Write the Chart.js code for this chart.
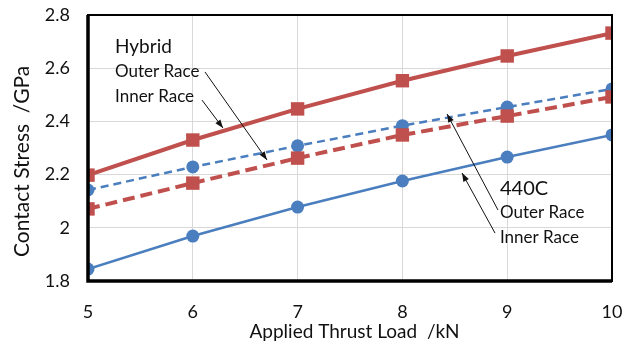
<!DOCTYPE html>
<html>
<head>
<meta charset="utf-8">
<script src="https://cdn.jsdelivr.net/npm/chart.js@4"></script>
<style>
  html, body { margin: 0; padding: 0; background: #fff; }
  #wrap { width: 634px; height: 345px; }
</style>
</head>
<body>
<div id="wrap"><canvas id="chartCanvas" width="634" height="345"></canvas></div>
<script>
// thrust load (kN)
const loads = [5, 6, 7, 8, 9, 10];

// contact stress (GPa)
const hybridOuter = [2.198, 2.330, 2.447, 2.553, 2.646, 2.732];
const hybridInner = [2.071, 2.168, 2.262, 2.349, 2.420, 2.492];
const steelOuter = [2.142, 2.229, 2.308, 2.384, 2.454, 2.522];
const steelInner = [1.845, 1.969, 2.078, 2.176, 2.266, 2.349];

const yTicks = [1.8, 2, 2.2, 2.4, 2.6, 2.8];

const RED = '#C0504D';
const BLUE = '#4A7EBE';
const FONT = 'Lato, "Open Sans", sans-serif';
const NB = '\u00a0';

// labels and arrows, in data units
const notes = [
  {text: 'Hybrid', x: 5.258, y: 2.680, size: 19},
  {text: 'Outer Race', x: 5.258, y: 2.586, size: 17},
  {text: 'Inner Race', x: 5.258, y: 2.495, size: 17},
  {text: '440C', x: 8.931, y: 2.146, size: 20},
  {text: 'Outer Race', x: 8.931, y: 2.056, size: 17},
  {text: 'Inner Race', x: 8.931, y: 1.965, size: 17},
];
const arrows = [
  [6.116, 2.586, 6.708, 2.255],
  [6.088, 2.480, 6.288, 2.375],
  [8.912, 2.067, 8.426, 2.428],
  [8.884, 1.980, 8.569, 2.206],
];

function toPoints(ys) {
  return ys.map((y, i) => ({x: loads[i], y: y}));
}

const annotate = {
  id: 'annotate',
  afterDatasetsDraw(chart) {
    const {ctx, chartArea: a, scales: {x, y}} = chart;
    ctx.save();
    // frame
    ctx.strokeStyle = '#000';
    ctx.lineWidth = 2;
    ctx.strokeRect(a.left, a.top, a.right - a.left, a.bottom - a.top);
    ctx.lineWidth = 3.5;
    ctx.beginPath();
    ctx.moveTo(a.left, a.top);
    ctx.lineTo(a.left, a.bottom);
    ctx.lineTo(a.right, a.bottom);
    ctx.stroke();

    ctx.fillStyle = '#111';
    ctx.textBaseline = 'middle';
    ctx.textAlign = 'left';
    notes.forEach(n => {
      ctx.font = n.size + 'px ' + FONT;
      ctx.fillText(n.text, x.getPixelForValue(n.x), y.getPixelForValue(n.y));
    });

    ctx.strokeStyle = '#111';
    ctx.lineWidth = 1;
    arrows.forEach(ar => {
      const x1 = x.getPixelForValue(ar[0]), y1 = y.getPixelForValue(ar[1]);
      const x2 = x.getPixelForValue(ar[2]), y2 = y.getPixelForValue(ar[3]);
      const ang = Math.atan2(y2 - y1, x2 - x1);
      ctx.beginPath();
      ctx.moveTo(x1, y1);
      ctx.lineTo(x2, y2);
      ctx.stroke();
      ctx.beginPath();
      ctx.moveTo(x2, y2);
      ctx.lineTo(x2 - 9 * Math.cos(ang - 0.35), y2 - 9 * Math.sin(ang - 0.35));
      ctx.lineTo(x2 - 9 * Math.cos(ang + 0.35), y2 - 9 * Math.sin(ang + 0.35));
      ctx.closePath();
      ctx.fill();
    });
    ctx.restore();
  }
};

const ctx = document.getElementById('chartCanvas').getContext('2d');
new Chart(ctx, {
  type: 'line',
  data: {
    datasets: [
      {
        label: 'Hybrid Outer Race', data: toPoints(hybridOuter),
        borderColor: RED, backgroundColor: RED, borderWidth: 4,
        pointStyle: 'rect', pointRadius: 9.5, pointBorderWidth: 0,
      },
      {
        label: 'Hybrid Inner Race', data: toPoints(hybridInner),
        borderColor: RED, backgroundColor: RED, borderWidth: 4, borderDash: [12, 6],
        pointStyle: 'rect', pointRadius: 9.5, pointBorderWidth: 0,
      },
      {
        label: '440C Outer Race', data: toPoints(steelOuter),
        borderColor: BLUE, backgroundColor: BLUE, borderWidth: 2.5, borderDash: [8, 5],
        pointStyle: 'circle', pointRadius: 6.5, pointBorderWidth: 0,
      },
      {
        label: '440C Inner Race', data: toPoints(steelInner),
        borderColor: BLUE, backgroundColor: BLUE, borderWidth: 2.5,
        pointStyle: 'circle', pointRadius: 6.5, pointBorderWidth: 0,
      },
    ],
  },
  options: {
    responsive: false,
    animation: false,
    events: [],
    layout: {padding: {left: 0, right: 22, top: 15, bottom: 0}},
    plugins: {legend: {display: false}, tooltip: {enabled: false}},
    scales: {
      x: {
        type: 'linear', min: 5, max: 10,
        afterFit(scale) {
          scale.height = 64;
          scale.paddingLeft = 0;
          scale.paddingRight = 0;
        },
        grid: {color: '#d9d9d9', lineWidth: 1, drawTicks: false},
        border: {display: false},
        ticks: {stepSize: 1, maxRotation: 0, padding: 20, color: '#111', font: {family: FONT, size: 18}},
        title: {display: true, text: NB + NB + 'Applied Thrust Load ' + NB + '/kN', color: '#111', padding: {top: 0, bottom: 2}, font: {family: FONT, size: 19}},
      },
      y: {
        min: 1.8, max: 2.8,
        afterFit(scale) {
          scale.width = 88;
          scale.paddingTop = 0;
          scale.paddingBottom = 0;
        },
        afterBuildTicks(scale) { scale.ticks = yTicks.map(v => ({value: v})); },
        grid: {color: '#d9d9d9', lineWidth: 1, drawTicks: false},
        border: {display: false},
        ticks: {padding: 18, color: '#111', font: {family: FONT, size: 18}, callback: v => String(v)},
        title: {display: true, text: 'Contact Stress ' + NB + '/GPa' + NB.repeat(5), color: '#111', padding: {top: 10, bottom: 0}, font: {family: FONT, size: 21}},
      },
    },
  },
  plugins: [annotate],
});
</script>
</body>
</html>
